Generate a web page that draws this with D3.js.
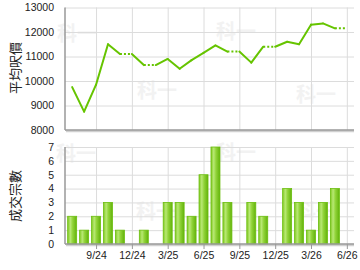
<!DOCTYPE html>
<html><head><meta charset="utf-8">
<script src="https://cdn.jsdelivr.net/npm/d3@7"></script>
<style>body{margin:0;background:#fff}svg{display:block}</style>
</head><body>
<svg id="c" width="360" height="270"></svg>
<script>
const months = ["2024-07","2024-08","2024-09","2024-10","2024-11","2024-12","2025-01","2025-02","2025-03","2025-04","2025-05","2025-06","2025-07","2025-08","2025-09","2025-10","2025-11","2025-12","2026-01","2026-02","2026-03","2026-04","2026-05","2026-06"];
const price = [9750,8750,9850,11500,11100,null,10650,null,10900,10500,10850,11150,11450,11200,null,10750,11400,null,11600,11500,12300,12350,12150,null];
const deals = [2,1,2,3,1,0,1,0,3,3,2,5,7,3,0,3,2,0,4,3,1,3,4,0];
const tickIdx = [2,5,8,11,14,17,20,23];
const tickLabels = ["9/24","12/24","3/25","6/25","9/25","12/25","3/26","6/26"];
const priceTicks = [8000,9000,10000,11000,12000,13000];
const dealTicks = [0,1,2,3,4,5,6,7];
const yTitleTop = "平均呎價";
const yTitleBottom = "成交宗數";
const watermark = "科一";

const svg = d3.select("#c");
const font = "'Liberation Sans', Arial, sans-serif";
const L = 65, R = 354;
const x = d3.scaleLinear().domain([-0.6, 23.6]).range([L, R]);
const yP = d3.scaleLinear().domain([8000, 13000]).range([130, 7.5]);
const yD = d3.scaleLinear().domain([0, 7]).range([244, 147]);

const defs = svg.append("defs");
const g = defs.append("linearGradient").attr("id","bg").attr("x1","0").attr("x2","1").attr("y1","0").attr("y2","0");
[[0,"#80c820"],[0.3,"#b8e874"],[0.55,"#92d43a"],[1,"#62b20a"]].forEach(s=>g.append("stop").attr("offset",s[0]).attr("stop-color",s[1]));

const wm = [[77,41],[157,98],[236,39],[316,102],[76,161],[156,219],[236,160],[316,219]];
svg.append("g").selectAll("text").data(wm).join("text")
  .attr("x",d=>d[0]).attr("y",d=>d[1]).attr("text-anchor","middle")
  .attr("font-family","'Noto Sans CJK TC', sans-serif").attr("font-weight","bold").attr("font-size",20)
  .attr("fill","#f2f2f2").text(watermark);

function panel(y, ticks, top, bottom, fmt) {
  const gg = svg.append("g");
  gg.append("g").attr("transform",`translate(${L},0)`)
    .call(d3.axisLeft(y).tickValues(ticks).tickSize(-(R-L)).tickFormat(""))
    .call(a=>{a.select(".domain").remove(); a.selectAll("line").attr("stroke","#dcdcdc");});
  gg.append("g").attr("transform",`translate(0,${bottom})`)
    .call(d3.axisBottom(x).tickValues(tickIdx).tickSize(-(bottom-top)).tickFormat(""))
    .call(a=>{a.select(".domain").remove(); a.selectAll("line").attr("stroke","#dcdcdc");});
  gg.append("g").attr("transform",`translate(${L-8},0)`)
    .call(d3.axisLeft(y).tickValues(ticks).tickSize(0).tickFormat(fmt))
    .call(a=>{a.select(".domain").remove(); a.selectAll("text").attr("font-family",font).attr("font-size",10.5).attr("fill","#222");});
  return gg;
}
panel(yP, priceTicks, 7.5, 130, d3.format("d"));
panel(yD, dealTicks, 147, 244, d3.format("d"));

svg.append("g").selectAll("rect").data(deals.map((v,i)=>({v,i})).filter(d=>d.v>0)).join("rect")
  .attr("x",d=>x(d.i)-4.5).attr("width",9)
  .attr("y",d=>yD(d.v)).attr("height",d=>yD(0)-yD(d.v))
  .attr("fill","url(#bg)").attr("stroke","#6cbf10").attr("stroke-width",0.8);

function axisLines(top,bottom){
  svg.append("line").attr("x1",L+1).attr("x2",R).attr("y1",bottom+1.5).attr("y2",bottom+1.5).attr("stroke","#d0d0d0").attr("stroke-width",1.5);
  svg.append("line").attr("x1",L).attr("x2",R).attr("y1",bottom).attr("y2",bottom).attr("stroke","#999").attr("stroke-width",1.5);
  svg.append("line").attr("x1",L).attr("x2",L).attr("y1",top).attr("y2",bottom).attr("stroke","#999").attr("stroke-width",1.5);
}
axisLines(7.5,130);
axisLines(147,244);

svg.append("g").attr("transform","translate(0,244)")
  .call(d3.axisBottom(x).tickValues(tickIdx).tickSize(5).tickPadding(3).tickFormat((d,i)=>tickLabels[i]))
  .call(a=>{a.select(".domain").remove(); a.selectAll("line").attr("stroke","#999");
    a.selectAll("text").attr("font-family",font).attr("font-size",10.5).attr("fill","#222");});

let carried = price[0];
const segs = [];
for (let i=1;i<price.length;i++){
  if (price[i]==null){ segs.push({a:[i-1,carried],b:[i,carried],dot:true}); }
  else { segs.push({a:[i-1,carried],b:[i,price[i]],dot:false}); carried=price[i]; }
}
svg.append("g").selectAll("line").data(segs).join("line")
  .attr("x1",d=>x(d.a[0])).attr("y1",d=>yP(d.a[1]))
  .attr("x2",d=>x(d.b[0])).attr("y2",d=>yP(d.b[1]))
  .attr("stroke","#66c400").attr("stroke-width",2).attr("stroke-linecap",d=>d.dot?"butt":"round")
  .attr("stroke-dasharray",d=>d.dot?"2,2":null);

function ytitle(t,cx,cy){
  svg.append("text").attr("transform",`translate(${cx},${cy}) rotate(-90)`).attr("text-anchor","middle")
    .attr("dominant-baseline","central").attr("font-family","'Noto Sans CJK TC', sans-serif")
    .attr("font-size",13).attr("fill","#222").text(t);
}
ytitle(yTitleTop,14,68);
ytitle(yTitleBottom,14,196);
</script>
</body></html>
